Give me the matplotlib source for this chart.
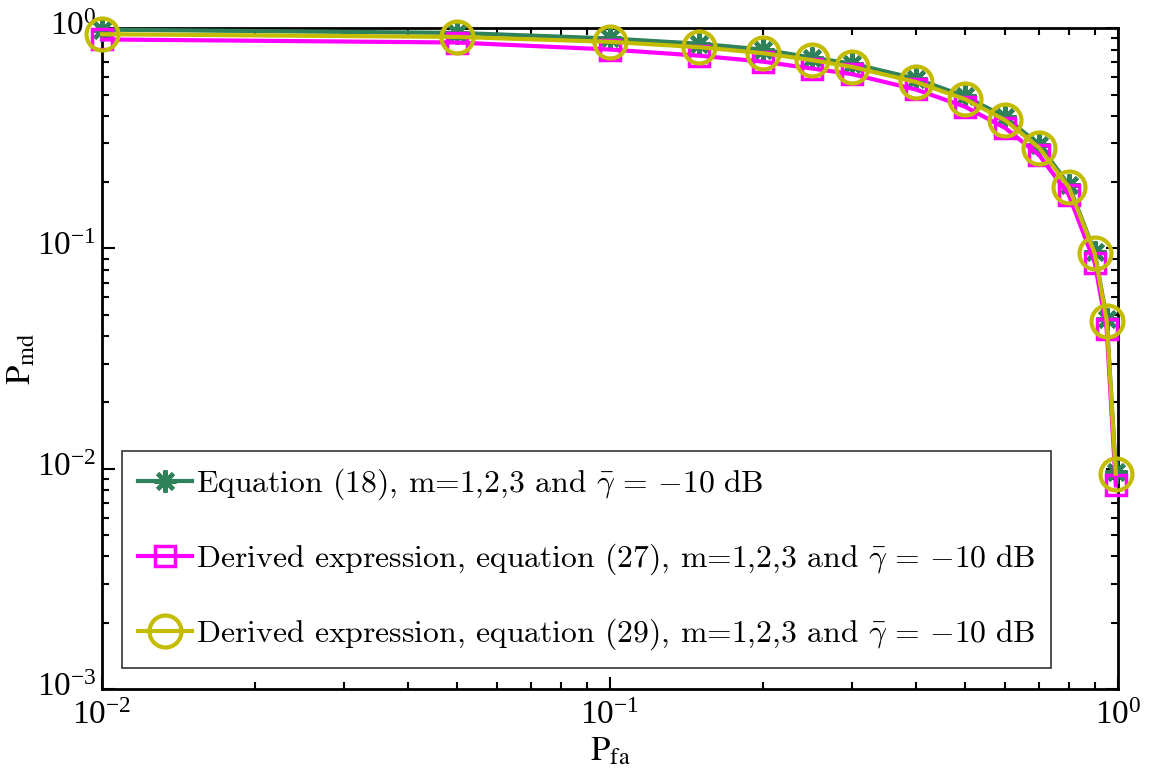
import matplotlib
matplotlib.use("Agg")
import matplotlib.pyplot as plt
import matplotlib.transforms as mtransforms
from matplotlib.ticker import LogLocator, LogFormatterMathtext, NullFormatter

# False-alarm probability grid and miss-detection probabilities
p_fa = [0.01, 0.05, 0.1, 0.15, 0.2, 0.25, 0.3, 0.4, 0.5, 0.6, 0.7, 0.8, 0.9, 0.95, 0.99]
pmd_eq18 = [0.985, 0.952, 0.898, 0.85, 0.80, 0.735, 0.69, 0.59, 0.49, 0.395, 0.295, 0.194, 0.096, 0.048, 0.0097]
pmd_eq27 = [0.889, 0.861, 0.80, 0.75, 0.705, 0.656, 0.618, 0.527, 0.44, 0.352, 0.265, 0.175, 0.086, 0.043, 0.0084]
pmd_eq29 = [0.939, 0.913, 0.867, 0.82, 0.77, 0.716, 0.667, 0.57, 0.476, 0.382, 0.286, 0.19, 0.095, 0.047, 0.0095]

labels = [
    r"Equation (18), m=1,2,3 and $\bar{\gamma}\,=\,{-}10\ \mathrm{dB}$",
    r"Derived expression, equation (27), m=1,2,3 and $\bar{\gamma}\,=\,{-}10\ \mathrm{dB}$",
    r"Derived expression, equation (29), m=1,2,3 and $\bar{\gamma}\,=\,{-}10\ \mathrm{dB}$",
]

green = "#2e8159"
magenta = "#ff00ff"
olive = "#c4bc00"

fig = plt.figure(figsize=(11.52, 7.83), dpi=100)
ax = fig.add_axes([0.0885, 0.12, 0.882, 0.844])

ax.plot(p_fa, pmd_eq18, color=green, lw=3, marker=(8, 2, 0), ms=16, mew=3,
        label=labels[0], zorder=3, clip_on=False)
ax.plot(p_fa, pmd_eq27, color=magenta, lw=3, marker="s", ms=14, mew=2.5,
        mfc="none", label=labels[1], zorder=4, clip_on=False)
ax.plot(p_fa, pmd_eq29, color=olive, lw=3, marker="o", ms=23, mew=3,
        mfc="none", label=labels[2], zorder=5, clip_on=False)

ax.set_xscale("log")
ax.set_yscale("log")
ax.set_xlim(1e-2, 1)
ax.set_ylim(1e-3, 1)

for a in (ax.xaxis, ax.yaxis):
    a.set_major_locator(LogLocator(base=10))
    a.set_minor_locator(LogLocator(base=10, subs=range(2, 10)))
    a.set_major_formatter(LogFormatterMathtext())
    a.set_minor_formatter(NullFormatter())

ax.tick_params(which="both", direction="in", top=True, right=True, width=1.5)
ax.tick_params(which="major", length=9, labelsize=24)
ax.tick_params(axis="x", which="major", pad=8)
ax.tick_params(axis="y", which="major", pad=4)
ax.tick_params(which="minor", length=5)

fig.canvas.draw()
lift = mtransforms.ScaledTranslation(0, 5 / 100, fig.dpi_scale_trans)
for lab in ax.get_xticklabels() + ax.get_yticklabels():
    lab.set_math_fontfamily("stix")
    lab.set_family("Liberation Serif")
for lab in ax.get_yticklabels():
    lab.set_transform(lab.get_transform() + lift)
for s in ax.spines.values():
    s.set_linewidth(2)

ax.set_xlabel(r"$\mathrm{P}_{\mathrm{fa}}$", fontsize=25, math_fontfamily="stix", labelpad=2)
ax.set_ylabel(r"$\mathrm{P}_{\mathrm{md}}$", fontsize=25, math_fontfamily="stix")
ax.yaxis.set_label_coords(-0.064, 0.5)

leg = ax.legend(loc="lower left", bbox_to_anchor=(0.0197, 0.0318),
                prop={"family": "cmr10", "size": 22.8}, frameon=True, fancybox=False,
                edgecolor="black", handlelength=1.7, handletextpad=0.15,
                labelspacing=1.25, borderpad=0.5, borderaxespad=0)
leg.get_frame().set_linewidth(1.2)
for t in leg.get_texts():
    t.set_math_fontfamily("cm")

fig.savefig("out.png", dpi=100)
